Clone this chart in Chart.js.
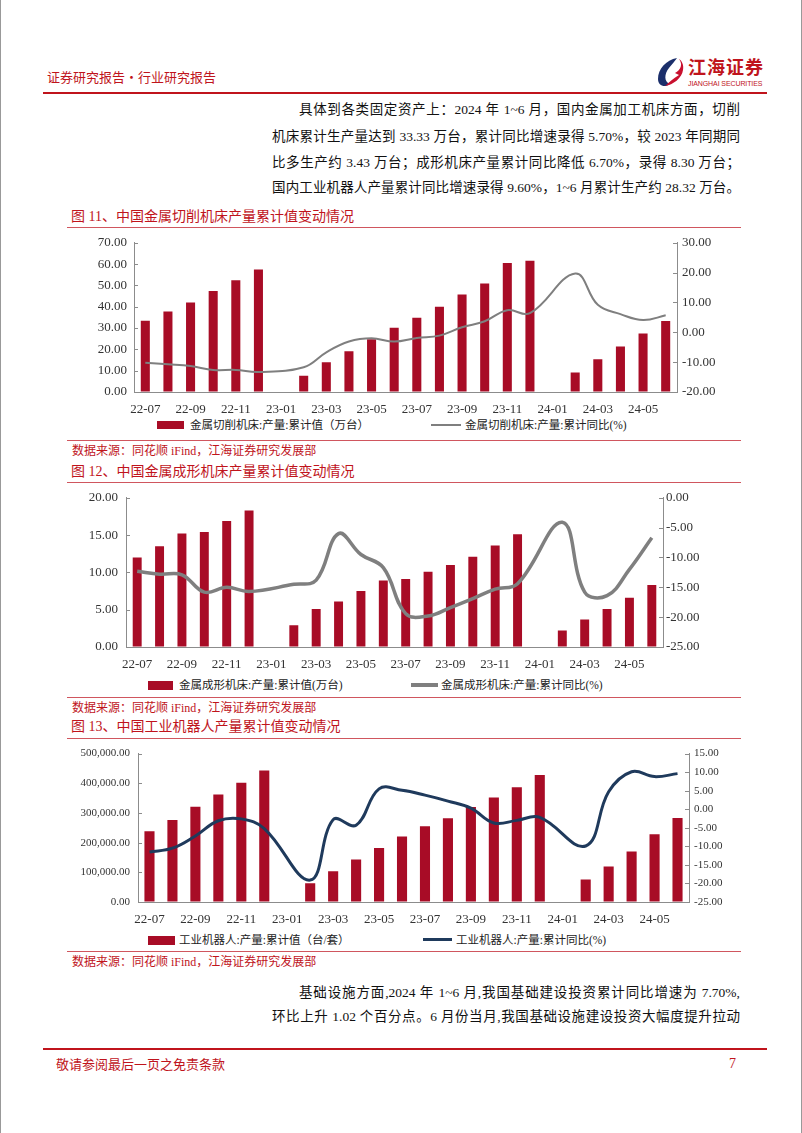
<!DOCTYPE html>
<html><head><meta charset="utf-8">
<script src="https://cdn.jsdelivr.net/npm/chart.js@4.4.1/dist/chart.umd.min.js"></script>
<style>
body{margin:0;background:#fff;}
#page{position:relative;width:802px;height:1133px;overflow:hidden;background:#fff;font-family:"Liberation Serif","Noto Sans CJK SC",serif;box-sizing:border-box;border-left:1px solid #999;border-right:1px solid #999;}
.red{color:#C0141C;}
.hline{position:absolute;background:#C0141C;}
.thin{position:absolute;height:1px;background:#D0565E;left:66px;width:674px;}
.pl{position:absolute;font-size:13.5px;line-height:20px;height:20px;text-align:justify;text-align-last:justify;color:#111;white-space:normal;}
.title{position:absolute;left:70px;font-size:14px;color:#C0141C;line-height:18px;white-space:nowrap;}
.src{position:absolute;left:71px;font-size:12px;color:#C0141C;line-height:16px;white-space:nowrap;}
.leg{position:absolute;font-size:11.5px;line-height:14px;color:#222;white-space:nowrap;}
.box{position:absolute;background:#A80C26;}
.lsam{position:absolute;}
.cv{position:absolute;}
</style></head>
<body>
<div id="page">
  <div class="red" style="position:absolute;left:46px;top:68px;font-size:13px;line-height:18px;font-family:'Noto Sans CJK SC';">证券研究报告·行业研究报告</div>
  <svg style="position:absolute;left:655px;top:56px" width="30" height="32" viewBox="0 0 30 32">
    <path d="M21 2 C10 4 2 13 2 23 C2 30 9 32 14 28 C8 26 8 18 13 12 C16 8 19 5 21 2 Z" fill="#1B2F6B"/>
    <path d="M23 3 C27 8 25 14 19 17 L23 19 C17 23 13 26 9 30 C17 29 26 22 27 14 C28 9 26 5 23 3 Z" fill="#C8102E"/>
  </svg>
  <div class="red" style="position:absolute;left:687px;top:57px;font-size:18px;line-height:19px;font-weight:bold;letter-spacing:1px;font-family:'Noto Sans CJK SC';">江海证券</div>
  <div class="red" style="position:absolute;left:687px;top:79px;font-size:7px;line-height:9px;font-family:'Liberation Sans';letter-spacing:-0.1px;white-space:nowrap;">JIANGHAI SECURITIES</div>
  <div class="hline" style="left:42px;top:92px;width:724px;height:2px;"></div>

  <div class="pl" style="left:298px;width:441px;top:100px;">具体到各类固定资产上：2024 年 1~6 月，国内金属加工机床方面，切削</div>
  <div class="pl" style="left:271px;width:468px;top:127px;">机床累计生产量达到 33.33 万台，累计同比增速录得 5.70%，较 2023 年同期同</div>
  <div class="pl" style="left:271px;width:468px;top:153px;">比多生产约 3.43 万台；成形机床产量累计同比降低 6.70%，录得 8.30 万台；</div>
  <div class="pl" style="left:271px;width:468px;top:178px;">国内工业机器人产量累计同比增速录得 9.60%，1~6 月累计生产约 28.32 万台。</div>

  <div class="title" style="top:208px;">图 11、中国金属切削机床产量累计值变动情况</div>
  <div class="thin" style="top:227px;"></div>
  <canvas id="c1" class="cv" style="left:80px;top:228px;" width="650" height="188"></canvas>
  <div class="box" style="left:156px;top:421px;width:27px;height:8px;"></div>
  <div class="leg" style="left:189px;top:418px;">金属切削机床:产量:累计值（万台）</div>
  <div class="lsam" style="left:430px;top:424px;width:30px;height:2px;background:#7F7F7F;"></div>
  <div class="leg" style="left:464px;top:418px;">金属切削机床:产量:累计同比(%)</div>
  <div class="thin" style="top:440px;"></div>
  <div class="src" style="top:443px;">数据来源：同花顺 iFind，江海证券研究发展部</div>

  <div class="title" style="top:463px;">图 12、中国金属成形机床产量累计值变动情况</div>
  <div class="thin" style="top:482px;"></div>
  <canvas id="c2" class="cv" style="left:70px;top:482px;" width="660" height="189"></canvas>
  <div class="box" style="left:147px;top:681px;width:25px;height:9px;"></div>
  <div class="leg" style="left:178px;top:678px;">金属成形机床:产量:累计值(万台)</div>
  <div class="lsam" style="left:410px;top:683px;width:27px;height:4px;background:#7F7F7F;"></div>
  <div class="leg" style="left:440px;top:678px;">金属成形机床:产量:累计同比(%)</div>
  <div class="thin" style="top:697px;"></div>
  <div class="src" style="top:700px;">数据来源：同花顺 iFind，江海证券研究发展部</div>

  <div class="title" style="top:718px;">图 13、中国工业机器人产量累计值变动情况</div>
  <div class="thin" style="top:738px;"></div>
  <canvas id="c3" class="cv" style="left:70px;top:739px;" width="660" height="187"></canvas>
  <div class="box" style="left:147px;top:936px;width:27px;height:9px;"></div>
  <div class="leg" style="left:178px;top:933px;">工业机器人:产量:累计值（台/套）</div>
  <div class="lsam" style="left:422px;top:938px;width:29px;height:3px;background:#1F3A5C;"></div>
  <div class="leg" style="left:455px;top:933px;">工业机器人:产量:累计同比(%)</div>
  <div class="thin" style="top:951px;"></div>
  <div class="src" style="top:954px;">数据来源：同花顺 iFind，江海证券研究发展部</div>

  <div class="pl" style="left:298px;width:441px;top:983px;">基础设施方面,2024 年 1~6 月,我国基础建设投资累计同比增速为 7.70%,</div>
  <div class="pl" style="left:271px;width:468px;top:1007px;">环比上升 1.02 个百分点。6 月份当月,我国基础设施建设投资大幅度提升拉动</div>

  <div class="hline" style="left:42px;top:1048px;width:724px;height:2px;"></div>
  <div class="red" style="position:absolute;left:55px;top:1055px;font-size:13px;line-height:18px;font-family:'Noto Sans CJK SC';">敬请参阅最后一页之免责条款</div>
  <div class="red" style="position:absolute;left:728px;top:1055px;font-size:14px;line-height:18px;">7</div>
</div>
<script>
const months = ['22-07','22-08','22-09','22-10','22-11','22-12','23-01','23-02','23-03','23-04','23-05','23-06','23-07','23-08','23-09','23-10','23-11','23-12','24-01','24-02','24-03','24-04','24-05','24-06'];
// 金属切削机床 累计值(万台) / 累计同比(%)
const cutVal = [33.4,37.8,42.0,47.4,52.4,57.5,null,7.6,14.0,19.1,24.7,30.2,34.8,40.0,45.7,50.9,60.5,61.6,null,9.2,15.4,21.3,27.4,33.33];
const cutYoy = [-10.2,-10.7,-11.3,-12.6,-12.6,-13.3,null,-11.7,-6.7,-3.1,-2.0,-3.1,-1.9,-1.1,1.7,3.7,7.4,6.4,null,19.7,9.2,6.1,4.1,5.7];
// 金属成形机床 累计值(万台) / 累计同比(%)
const formVal = [12.0,13.5,15.2,15.4,16.9,18.3,null,2.9,5.1,6.1,7.5,8.9,9.1,10.1,11.0,12.1,13.6,15.1,null,2.2,3.7,5.1,6.6,8.3];
const formYoy = [-12.3,-12.8,-12.9,-15.8,-15.0,-15.7,null,-14.5,-13.8,-6.0,-9.5,-11.7,-19.4,-19.8,-18.4,-16.9,-15.3,-14.4,null,-4.1,-15.8,-16.4,-12.0,-6.7];
// 工业机器人 累计值(台/套) / 累计同比(%)
const robotVal = [238000,276000,321000,362000,402000,443000,null,63000,103500,143000,181700,221000,255500,282000,320000,352000,387000,428000,null,76000,120000,170000,228000,283200];
const robotYoy = [-11.5,-10.5,-7.2,-3.1,-2.6,-5.2,null,-19.1,-2.8,-4.3,5.5,5.1,3.8,2.2,0.3,-3.7,-3.0,-2.2,null,-9.9,4.7,10.1,8.8,9.6];

const BAR = '#A80C26';
const AXIS = '#8C8C8C';

const inwardTicks = {
  id: 'inwardTicks',
  afterDraw(chart) {
    const ctx = chart.ctx;
    ctx.save();
    ctx.strokeStyle = AXIS; ctx.lineWidth = 1;
    ['y','y1'].forEach(id => {
      const s = chart.scales[id];
      s.ticks.forEach((t, i) => {
        const py = Math.round(s.getPixelForTick(i)) + 0.5;
        ctx.beginPath();
        if (s.position === 'left') { ctx.moveTo(s.right, py); ctx.lineTo(s.right + 4, py); }
        else { ctx.moveTo(s.left - 4, py); ctx.lineTo(s.left, py); }
        ctx.stroke();
      });
    });
    ctx.restore();
  }
};

function build(id, p) {
  new Chart(document.getElementById(id), {
    data: {
      labels: months,
      datasets: [
        {type:'line', data:p.yoy, yAxisID:'y1', borderColor:p.lineColor, borderWidth:p.lineWidth, pointRadius:0, tension:0.4, spanGaps:true, order:0},
        {type:'bar', data:p.val, yAxisID:'y', backgroundColor:BAR, categoryPercentage:1, barPercentage:p.barPct, order:1}
      ]
    },
    options: {
      responsive:false, animation:false, devicePixelRatio:1,
      layout:{padding:{top:p.ptop,left:0,right:0,bottom:0}},
      plugins:{legend:{display:false}, tooltip:{enabled:false}},
      scales:{
        x:{
          grid:{display:false}, border:{color:AXIS},
          ticks:{autoSkip:false, maxRotation:0, minRotation:0, padding:2, color:'#333', font:{family:'Liberation Serif', size:13},
                 callback:(v,i)=> i%2===0 ? months[i] : ''},
          afterFit(s){ s.height = 24; }
        },
        y:{
          position:'left', min:p.lmin, max:p.lmax,
          ticks:{stepSize:p.lstep, padding:p.lpad, color:'#333', font:{family:'Liberation Serif', size:p.fs}, callback:p.lfmt},
          grid:{drawOnChartArea:false, drawTicks:false}, border:{color:AXIS},
          afterFit(s){ s.width = p.lw; }
        },
        y1:{
          position:'right', min:p.rmin, max:p.rmax,
          ticks:{stepSize:p.rstep, padding:p.rpad, color:'#333', font:{family:'Liberation Serif', size:p.fs}, callback:v=>Number(v).toFixed(2)},
          grid:{drawOnChartArea:false, drawTicks:false}, border:{color:AXIS},
          afterFit(s){ s.width = p.rw; }
        }
      }
    },
    plugins:[inwardTicks]
  });
}

const fix2 = v => Number(v).toFixed(2);
const thou = v => Number(v).toLocaleString('en-US',{minimumFractionDigits:2, maximumFractionDigits:2});

build('c1', {val:cutVal, yoy:cutYoy, lineColor:'#7F7F7F', lineWidth:2, barPct:0.4, ptop:6,
  lmin:0, lmax:70, lstep:10, rmin:-20, rmax:30, rstep:10, lw:53, rw:54, lpad:7, rpad:5, fs:13, lfmt:fix2});
build('c2', {val:formVal, yoy:formYoy, lineColor:'#7F7F7F', lineWidth:3.5, barPct:0.4, ptop:6,
  lmin:0, lmax:20, lstep:5, rmin:-25, rmax:0, rstep:5, lw:55, rw:68, lpad:8, rpad:3, fs:13, lfmt:fix2});
build('c3', {val:robotVal, yoy:robotYoy, lineColor:'#1F3A5C', lineWidth:3, barPct:0.44, ptop:8,
  lmin:0, lmax:500000, lstep:100000, rmin:-25, rmax:15, rstep:5, lw:67, rw:42, lpad:8, rpad:5, fs:11, lfmt:thou});
</script>
</body></html>
